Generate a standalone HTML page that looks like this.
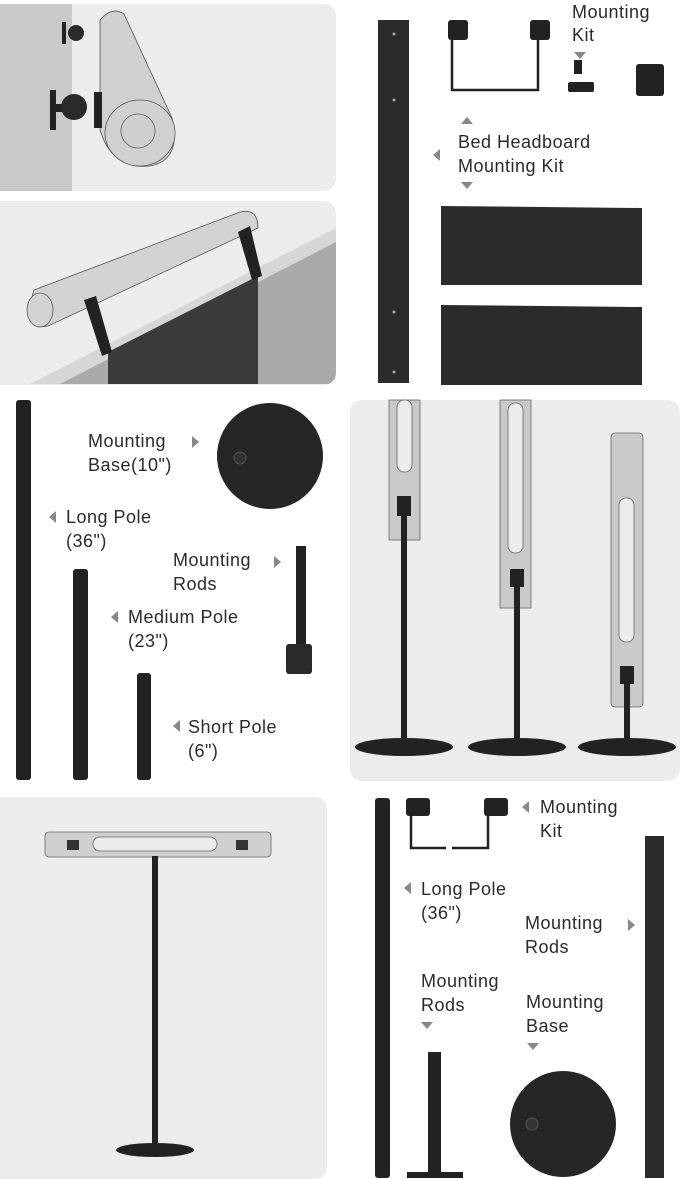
<!DOCTYPE html>
<html><head><meta charset="utf-8"><style>
html,body{margin:0;padding:0;background:#fff;}
svg{display:block;}
text{font-family:"Liberation Sans",sans-serif;font-size:18px;fill:#2a2a2a;letter-spacing:0.5px;}
</style></head><body>
<svg width="680" height="1179" viewBox="0 0 680 1179" xmlns="http://www.w3.org/2000/svg">
<defs><clipPath id="p2"><rect x="-12" y="201" width="348" height="184" rx="12"/></clipPath></defs>
<!-- panels -->
<rect x="-12" y="4" width="348" height="187" rx="12" fill="#ececec"/>
<rect x="-12" y="4" width="84" height="187" fill="#c9c9c9"/>
<rect x="-12" y="201" width="348" height="184" rx="12" fill="#ececec"/>
<g clip-path="url(#p2)">
<polygon points="30,384 336,228 336,384" fill="#d6d6d6"/>
<polygon points="60,384 336,242 336,384" fill="#a9a9a9"/>
<polygon points="108,352 258,276 258,384 108,384" fill="#3b3b3b"/>
</g>
<rect x="350" y="400" width="330" height="381" rx="12" fill="#ececec"/>
<rect x="-12" y="797" width="339" height="382" rx="12" fill="#ececec"/>

<!-- panel 1 wall lamp -->
<g stroke="#555" stroke-width="0.8" fill="#d0d0d0">
<path d="M100,20 Q112,6 124,14 L172,118 Q182,160 150,166 Q112,170 100,130 Z"/>
<ellipse cx="140" cy="133" rx="35" ry="33"/>
<circle cx="138" cy="131" r="17" fill="#cfcfcf"/>
</g>
<rect x="62" y="22" width="4" height="22" fill="#222"/>
<circle cx="76" cy="33" r="8" fill="#2a2a2a"/>
<rect x="50" y="90" width="6" height="40" fill="#222"/>
<rect x="52" y="104" width="30" height="8" fill="#222"/>
<circle cx="74" cy="107" r="13" fill="#2a2a2a"/>
<rect x="94" y="92" width="8" height="36" fill="#222"/>

<!-- panel 2 headboard lamp -->
<g stroke="#555" stroke-width="0.8" fill="#d2d2d2">
<path d="M34,290 L240,212 Q258,208 258,228 L48,326 Q30,330 28,310 Z"/>
<ellipse cx="40" cy="310" rx="13" ry="17"/>
</g>
<polygon points="84,300 96,296 112,352 102,356" fill="#222"/>
<polygon points="238,232 250,226 262,276 252,280" fill="#222"/>

<!-- bed kit pieces -->
<rect x="378" y="20" width="31" height="363" fill="#2b2b2b"/>
<circle cx="394" cy="34" r="1.5" fill="#aaa"/><circle cx="394" cy="100" r="1.5" fill="#aaa"/>
<circle cx="394" cy="312" r="1.5" fill="#aaa"/><circle cx="394" cy="372" r="1.5" fill="#aaa"/>
<path d="M452,40 V90 H538 V40" fill="none" stroke="#222" stroke-width="2.5"/>
<rect x="448" y="20" width="20" height="20" rx="3" fill="#222"/>
<rect x="530" y="20" width="20" height="20" rx="3" fill="#222"/>
<rect x="574" y="60" width="8" height="14" fill="#222"/>
<rect x="568" y="82" width="26" height="10" rx="2" fill="#222"/>
<rect x="636" y="64" width="28" height="32" rx="3" fill="#222"/>
<polygon points="441,206 642,208 642,285 441,285" fill="#2b2b2b"/>
<polygon points="441,305 642,307 642,385 441,385" fill="#2b2b2b"/>
<text x="572" y="18">Mounting</text><text x="572" y="41">Kit</text>
<polygon points="574,52 586,52 580,59" fill="#888"/>
<polygon points="461,124 473,124 467,117" fill="#888"/>
<polygon points="440,149 440,161 433,155" fill="#888"/>
<text x="458" y="148">Bed Headboard</text><text x="458" y="172">Mounting Kit</text>
<polygon points="461,182 473,182 467,189" fill="#888"/>

<!-- poles left -->
<rect x="16" y="400" width="15" height="380" rx="3" fill="#222"/>
<rect x="73" y="569" width="15" height="211" rx="3" fill="#222"/>
<rect x="137" y="673" width="14" height="107" rx="3" fill="#222"/>
<circle cx="270" cy="456" r="53" fill="#262626"/>
<circle cx="240" cy="458" r="6" fill="#333" stroke="#555"/>
<rect x="296" y="546" width="10" height="100" fill="#222"/>
<rect x="286" y="644" width="26" height="30" rx="3" fill="#2a2a2a"/>
<text x="88" y="447">Mounting</text><text x="88" y="471">Base(10")</text>
<polygon points="192,436 192,448 199,442" fill="#888"/>
<polygon points="56,511 56,523 49,517" fill="#888"/>
<text x="66" y="523">Long Pole</text><text x="66" y="547">(36")</text>
<text x="173" y="566">Mounting</text><text x="173" y="590">Rods</text>
<polygon points="274,556 274,568 281,562" fill="#888"/>
<polygon points="118,611 118,623 111,617" fill="#888"/>
<text x="128" y="623">Medium Pole</text><text x="128" y="647">(23")</text>
<polygon points="180,720 180,732 173,726" fill="#888"/>
<text x="188" y="733">Short Pole</text><text x="188" y="757">(6")</text>

<!-- floor lamps panel -->
<g stroke="#666" stroke-width="0.8" fill="#c9c9c9">
<rect x="389" y="400" width="31" height="140"/>
<rect x="500" y="400" width="31" height="208"/>
<rect x="611" y="433" width="32" height="274" rx="4"/>
</g>
<g fill="#ececec" stroke="#666" stroke-width="0.8">
<rect x="397" y="400" width="15" height="72" rx="7"/>
<rect x="508" y="403" width="15" height="150" rx="7"/>
<rect x="619" y="498" width="15" height="144" rx="7"/>
</g>
<g fill="#222">
<rect x="397" y="496" width="14" height="20"/><rect x="401" y="500" width="6" height="245"/>
<rect x="510" y="569" width="14" height="18"/><rect x="514" y="572" width="6" height="173"/>
<rect x="620" y="666" width="14" height="18"/><rect x="624" y="670" width="6" height="75"/>
<ellipse cx="404" cy="747" rx="49" ry="9"/>
<ellipse cx="517" cy="747" rx="49" ry="9"/>
<ellipse cx="627" cy="747" rx="49" ry="9"/>
</g>

<!-- bottom-left lamp -->
<rect x="45" y="832" width="226" height="25" rx="4" fill="#cfcfcf" stroke="#666" stroke-width="0.8"/>
<rect x="93" y="837" width="124" height="14" rx="7" fill="#ececec" stroke="#666" stroke-width="0.8"/>
<rect x="67" y="840" width="12" height="10" fill="#333"/><rect x="236" y="840" width="12" height="10" fill="#333"/>
<rect x="152" y="856" width="6" height="294" fill="#222"/>
<ellipse cx="155" cy="1150" rx="39" ry="7" fill="#222"/>

<!-- bottom-right kit -->
<rect x="375" y="798" width="15" height="380" rx="3" fill="#222"/>
<rect x="645" y="836" width="19" height="342" fill="#2b2b2b"/>
<path d="M411,815 V848 H446 M452,848 H488 V815" fill="none" stroke="#222" stroke-width="2.5"/>
<rect x="406" y="798" width="24" height="18" rx="3" fill="#222"/>
<rect x="484" y="798" width="24" height="18" rx="3" fill="#222"/>
<rect x="428" y="1052" width="13" height="120" fill="#222"/>
<rect x="407" y="1172" width="56" height="6" fill="#222"/>
<circle cx="563" cy="1124" r="53" fill="#262626"/>
<circle cx="532" cy="1124" r="6" fill="#333" stroke="#555"/>
<polygon points="529,801 529,813 522,807" fill="#888"/>
<text x="540" y="813">Mounting</text><text x="540" y="837">Kit</text>
<polygon points="411,882 411,894 404,888" fill="#888"/>
<text x="421" y="895">Long Pole</text><text x="421" y="919">(36")</text>
<text x="525" y="929">Mounting</text><text x="525" y="953">Rods</text>
<polygon points="628,919 628,931 635,925" fill="#888"/>
<text x="421" y="987">Mounting</text><text x="421" y="1011">Rods</text>
<polygon points="421,1022 433,1022 427,1029" fill="#888"/>
<text x="526" y="1008">Mounting</text><text x="526" y="1032">Base</text>
<polygon points="527,1043 539,1043 533,1050" fill="#888"/>
</svg>
</body></html>
